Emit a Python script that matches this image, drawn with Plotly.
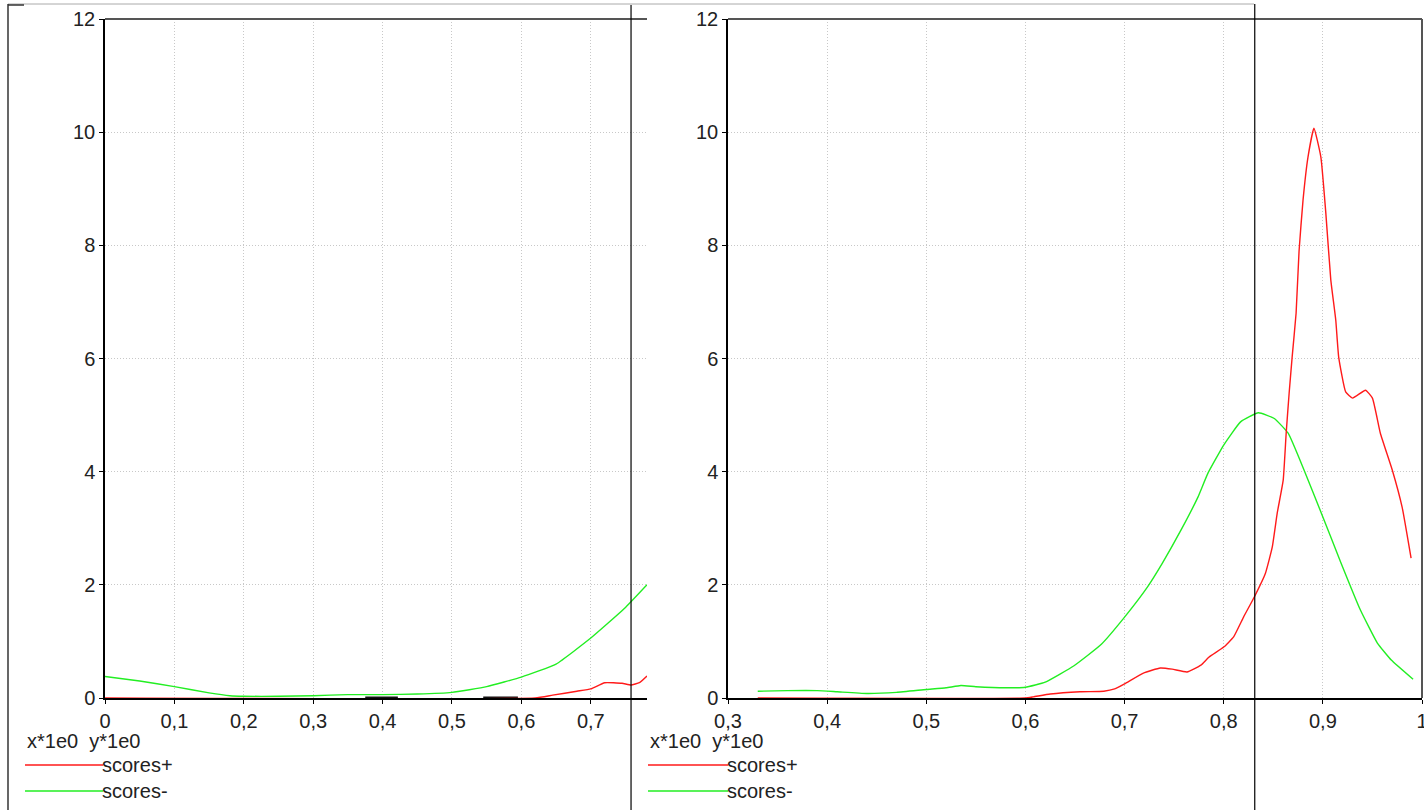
import plotly.graph_objects as go

W, H = 1424, 810

# ---------------- data ----------------
left_neg_x = [0, 0.05, 0.1, 0.15, 0.18, 0.2, 0.25, 0.3, 0.35, 0.4, 0.45, 0.5, 0.55, 0.6, 0.65, 0.7, 0.75, 0.781]
left_neg_y = [0.38, 0.3, 0.2, 0.09, 0.04, 0.03, 0.03, 0.04, 0.06, 0.06, 0.07, 0.1, 0.2, 0.37, 0.6, 1.06, 1.6, 2.0]

left_pos_x = [0, 0.62, 0.645, 0.68, 0.7, 0.72, 0.745, 0.758, 0.77, 0.781]
left_pos_y = [0, 0, 0.05, 0.12, 0.16, 0.27, 0.26, 0.23, 0.27, 0.39]

left_blk_x = [0.375, 0.422, None, 0.545, 0.595]
left_blk_y = [0, 0, None, 0, 0]

right_neg_x = [0.33, 0.36, 0.39, 0.41, 0.44, 0.47, 0.5, 0.52, 0.535, 0.55, 0.58, 0.6, 0.62, 0.649,
               0.676, 0.7, 0.723, 0.738, 0.757, 0.774, 0.784, 0.8, 0.817, 0.835, 0.851, 0.865,
               0.881, 0.9, 0.918, 0.938, 0.955, 0.969, 0.991]
right_neg_y = [0.12, 0.13, 0.13, 0.11, 0.08, 0.1, 0.15, 0.18, 0.22, 0.2, 0.18, 0.19, 0.28, 0.57,
               0.94, 1.43, 1.96, 2.38, 2.97, 3.55, 3.97, 4.47, 4.88, 5.04, 4.94, 4.68,
               4.03, 3.2, 2.4, 1.55, 0.97, 0.67, 0.33]

right_pos_x = [0.33, 0.6, 0.608, 0.625, 0.655, 0.679, 0.69, 0.7, 0.719, 0.736, 0.748, 0.763,
               0.777, 0.785, 0.8, 0.81, 0.82, 0.831, 0.842, 0.849, 0.854, 0.86, 0.863, 0.866,
               0.869, 0.873, 0.876, 0.88, 0.885, 0.891, 0.898, 0.903, 0.908, 0.913, 0.916,
               0.923, 0.93, 0.943, 0.95, 0.958, 0.97, 0.98, 0.989]
right_pos_y = [0, 0, 0.02, 0.07, 0.11, 0.12, 0.16, 0.25, 0.44, 0.53, 0.51, 0.46,
               0.58, 0.72, 0.9, 1.08, 1.43, 1.79, 2.2, 2.67, 3.27, 3.85, 4.68, 5.39,
               6.02, 6.8, 7.9, 8.8, 9.56, 10.07, 9.56, 8.57, 7.39, 6.68, 6.02,
               5.41, 5.3, 5.44, 5.3, 4.68, 4.03, 3.37, 2.47]

left_ticks = [0, 0.1, 0.2, 0.3, 0.4, 0.5, 0.6, 0.7]
right_ticks = [0.3, 0.4, 0.5, 0.6, 0.7, 0.8, 0.9, 1.0]
y_ticks = [0, 2, 4, 6, 8, 10, 12]

cursor_left = 0.758
cursor_right = 0.8313

series_names = ["scores+", "scores-"]
axis_caption = "x*1e0\u00a0\u00a0y*1e0"

RED = "#ff1a1a"
GREEN = "#22ee22"
FONT = "Liberation Sans, Arial, sans-serif"
FS = 20

fig = go.Figure()
fig.add_trace(go.Scatter(x=left_blk_x, y=left_blk_y, mode="lines", line=dict(color="#111", width=3),
                         xaxis="x", yaxis="y", showlegend=False, hoverinfo="skip"))
for xs, ys, col, nm, xa, ya in [
    (left_neg_x, left_neg_y, GREEN, series_names[1], "x", "y"),
    (left_pos_x, left_pos_y, RED, series_names[0], "x", "y"),
    (right_neg_x, right_neg_y, GREEN, series_names[1], "x2", "y2"),
    (right_pos_x, right_pos_y, RED, series_names[0], "x2", "y2"),
]:
    fig.add_trace(go.Scatter(x=xs, y=ys, mode="lines",
                             line=dict(color=col, width=1.4, shape="spline", smoothing=0.4),
                             xaxis=xa, yaxis=ya, name=nm, showlegend=False))


def px(x):
    return x / W


def py(y):
    return 1 - y / H


ydom = [py(698), py(19)]
common = dict(showline=True, linecolor="black", linewidth=1.5, zeroline=False,
              showgrid=True, gridcolor="#c8c8c8", griddash="1px,2px", gridwidth=1,
              ticks="outside", ticklen=4, tickcolor="black", layer="below traces",
              automargin=False, ticklabeloverflow="allow",
              tickfont=dict(family=FONT, size=FS, color="#222"), fixedrange=True)

fig.update_layout(
    width=W, height=H, margin=dict(l=0, r=0, t=0, b=0, autoexpand=False),
    paper_bgcolor="white", plot_bgcolor="white", separators=",.",
    showlegend=False,
    xaxis=dict(domain=[px(105), px(647)], range=[0, 0.781], tickvals=left_ticks,
               ticktext=[f"{v:g}".replace(".", ",") for v in left_ticks], anchor="y", **common),
    yaxis=dict(domain=ydom, range=[0, 12], tickvals=y_ticks, anchor="x", **common),
    xaxis2=dict(domain=[px(728), px(1422)], range=[0.3, 1.0], tickvals=right_ticks,
                ticktext=[f"{v:g}".replace(".", ",") for v in right_ticks], anchor="y2", **common),
    yaxis2=dict(domain=ydom, range=[0, 12], tickvals=y_ticks, anchor="x2", **common),
)

shapes = []
# plot frame tops / right border
shapes.append(dict(type="line", xref="paper", yref="paper", x0=px(105), x1=px(647), y0=py(19), y1=py(19),
                   line=dict(color="#555", width=2)))
shapes.append(dict(type="line", xref="paper", yref="paper", x0=px(728), x1=px(1422), y0=py(19), y1=py(19),
                   line=dict(color="#555", width=2)))
shapes.append(dict(type="line", xref="paper", yref="paper", x0=px(1422), x1=px(1422), y0=py(698), y1=py(19),
                   line=dict(color="#555", width=2)))
# outer window frame
shapes.append(dict(type="line", xref="paper", yref="paper", x0=px(8), x1=px(1254), y0=py(4), y1=py(4),
                   line=dict(color="#aaa", width=1)))
shapes.append(dict(type="line", xref="paper", yref="paper", x0=px(8), x1=px(8), y0=0, y1=py(4),
                   line=dict(color="black", width=1.2)))
shapes.append(dict(type="line", xref="paper", yref="paper", x0=px(8), x1=px(24), y0=py(5), y1=py(5),
                   line=dict(color="#333", width=1.5)))
# cursor lines
shapes.append(dict(type="line", xref="x", yref="paper", x0=cursor_left, x1=cursor_left, y0=0, y1=py(5),
                   line=dict(color="black", width=1.2)))
shapes.append(dict(type="line", xref="x2", yref="paper", x0=cursor_right, x1=cursor_right, y0=0, y1=py(4),
                   line=dict(color="black", width=1.2)))

annotations = []
for (lx0, lx1) in [(25, 103), (648, 728)]:
    annotations.append(dict(text=axis_caption, xref="paper", yref="paper", x=px(lx0), y=py(741),
                            xanchor="left", yanchor="middle", showarrow=False,
                            font=dict(family=FONT, size=FS, color="#222")))
    for name, col, yy in [(series_names[0], RED, 765), (series_names[1], GREEN, 791)]:
        shapes.append(dict(type="line", xref="paper", yref="paper", x0=px(lx0), x1=px(lx1),
                           y0=py(yy), y1=py(yy), line=dict(color=col, width=1.4)))
        annotations.append(dict(text=name, xref="paper", yref="paper", x=px(lx1), y=py(yy),
                                xanchor="left", yanchor="middle", showarrow=False, xshift=-3,
                                font=dict(family=FONT, size=FS, color="#222")))

fig.update_layout(shapes=shapes, annotations=annotations)
fig.write_html("out.html", config={"displayModeBar": False},
               post_script="document.body.style.margin='0';document.body.style.overflow='hidden';")
